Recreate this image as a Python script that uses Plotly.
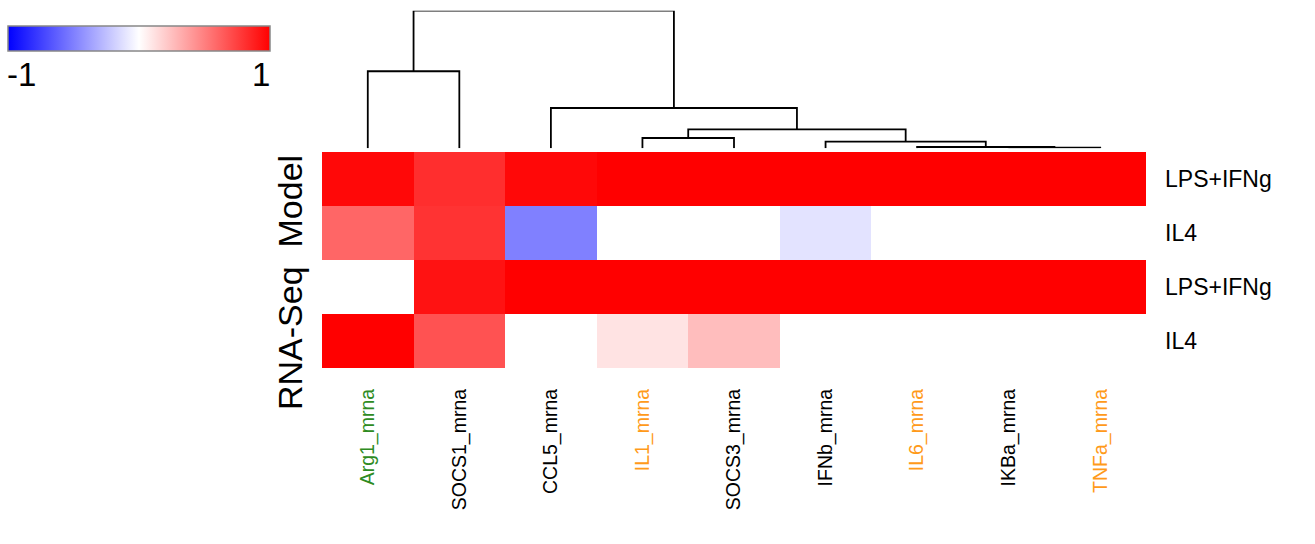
import plotly.graph_objects as go

# ---------------- data ----------------
genes = ["Arg1_mrna", "SOCS1_mrna", "CCL5_mrna", "IL1_mrna", "SOCS3_mrna",
         "IFNb_mrna", "IL6_mrna", "IKBa_mrna", "TNFa_mrna"]
gene_colors = ["#2E8B22", "#000000", "#000000", "#FF9A1A", "#000000",
               "#000000", "#FF9A1A", "#000000", "#FF9A1A"]
row_labels = ["LPS+IFNg", "IL4", "LPS+IFNg", "IL4"]   # top to bottom
model_lps = [0.97, 0.82, 0.97, 1.0, 1.0, 1.0, 1.0, 1.0, 1.0]
model_il4 = [0.60, 0.80, -0.50, 0.0, 0.0, -0.11, 0.0, 0.0, 0.0]
rnaseq_lps = [0.0, 0.93, 1.0, 1.0, 1.0, 1.0, 1.0, 1.0, 1.0]
rnaseq_il4 = [1.0, 0.68, 0.0, 0.11, 0.26, 0.0, 0.0, 0.0, 0.0]
# dendrogram merges: (left child, right child, height); leaves 0..8, new clusters 9..
merges = [(7, 8, 0.0044), (6, 9, 0.0094), (5, 10, 0.048), (3, 4, 0.075),
          (12, 11, 0.138), (2, 13, 0.293), (0, 1, 0.56), (15, 14, 1.0)]
y_title = "RNA-Seq  Model"

# ---------------- figure ----------------
W, H = 1315, 544
def px(x):
    return x / W
def py(y):
    return 1 - y / H

z = [model_lps, model_il4, rnaseq_lps, rnaseq_il4]
rows = list(range(len(row_labels)))

fig = go.Figure()
fig.add_trace(go.Heatmap(
    z=z, x=list(range(len(genes))), y=rows,
    zmin=-1, zmax=1,
    colorscale=[[0, "#0000FF"], [0.5, "#FFFFFF"], [1, "#FF0000"]],
    colorbar=dict(orientation="h", x=px(8), xanchor="left", y=py(26), yanchor="top",
                  lenmode="pixels", len=262, thicknessmode="pixels", thickness=25,
                  xpad=0, ypad=0, outlinecolor="#888888", outlinewidth=1.5,
                  showticklabels=False, ticks=""),
    hoverongaps=False,
))

# dendrogram lines computed from merge structure
pos = {i: float(i) for i in range(len(genes))}
hgt = {i: 0.0 for i in range(len(genes))}
dx, dy = [], []
nid = len(genes)
for a, b, h in merges:
    xa, xb = pos[a], pos[b]
    dx += [xa, xa, xb, xb, None]
    dy += [hgt[a], h, h, hgt[b], None]
    pos[nid] = (xa + xb) / 2
    hgt[nid] = h
    nid += 1
fig.add_trace(go.Scatter(x=dx, y=dy, mode="lines", xaxis="x2", yaxis="y2",
                         line=dict(color="black", width=1.8), hoverinfo="skip",
                         showlegend=False))

ticktext = [f'<span style="color:{c}">{g}</span>' for g, c in zip(genes, gene_colors)]
fig.update_layout(
    width=W, height=H, margin=dict(l=0, r=0, t=0, b=0),
    paper_bgcolor="white", plot_bgcolor="white",
    font=dict(family="Liberation Sans, Arial, sans-serif", color="black"),
    xaxis=dict(domain=[px(322), px(1146)], range=[-0.5, len(genes) - 0.5],
               tickmode="array", tickvals=list(range(len(genes))), ticktext=ticktext,
               tickangle=-90, ticks="", ticklabelstandoff=16, showgrid=False,
               zeroline=False, showline=False, tickfont=dict(size=19.5)),
    yaxis=dict(domain=[py(368), py(152)], range=[len(rows) - 0.5, -0.5],
               tickmode="array", tickvals=rows, ticktext=row_labels, side="right",
               ticks="", ticklabelstandoff=18, showgrid=False, zeroline=False,
               showline=False, tickfont=dict(size=23)),
    xaxis2=dict(domain=[px(322), px(1146)], range=[-0.5, len(genes) - 0.5],
                anchor="y2", visible=False),
    yaxis2=dict(domain=[py(148.3), py(10.7)], range=[0, 1.0], anchor="x2",
                visible=False),
    annotations=[
        dict(text="-1", x=px(5), y=py(54), xref="paper", yref="paper",
             xanchor="left", yanchor="top", showarrow=False, font=dict(size=33)),
        dict(text="1", x=px(272), y=py(54), xref="paper", yref="paper",
             xanchor="right", yanchor="top", showarrow=False, font=dict(size=33)),
        dict(text=y_title, x=px(290), y=py(283), xref="paper", yref="paper",
             xanchor="center", yanchor="middle", textangle=-90, showarrow=False,
             font=dict(size=34)),
    ],
)

fig.write_html("out.html", config={"displayModeBar": False},
               post_script="document.body.style.margin='0';"
                           "document.body.style.overflow='hidden';")
